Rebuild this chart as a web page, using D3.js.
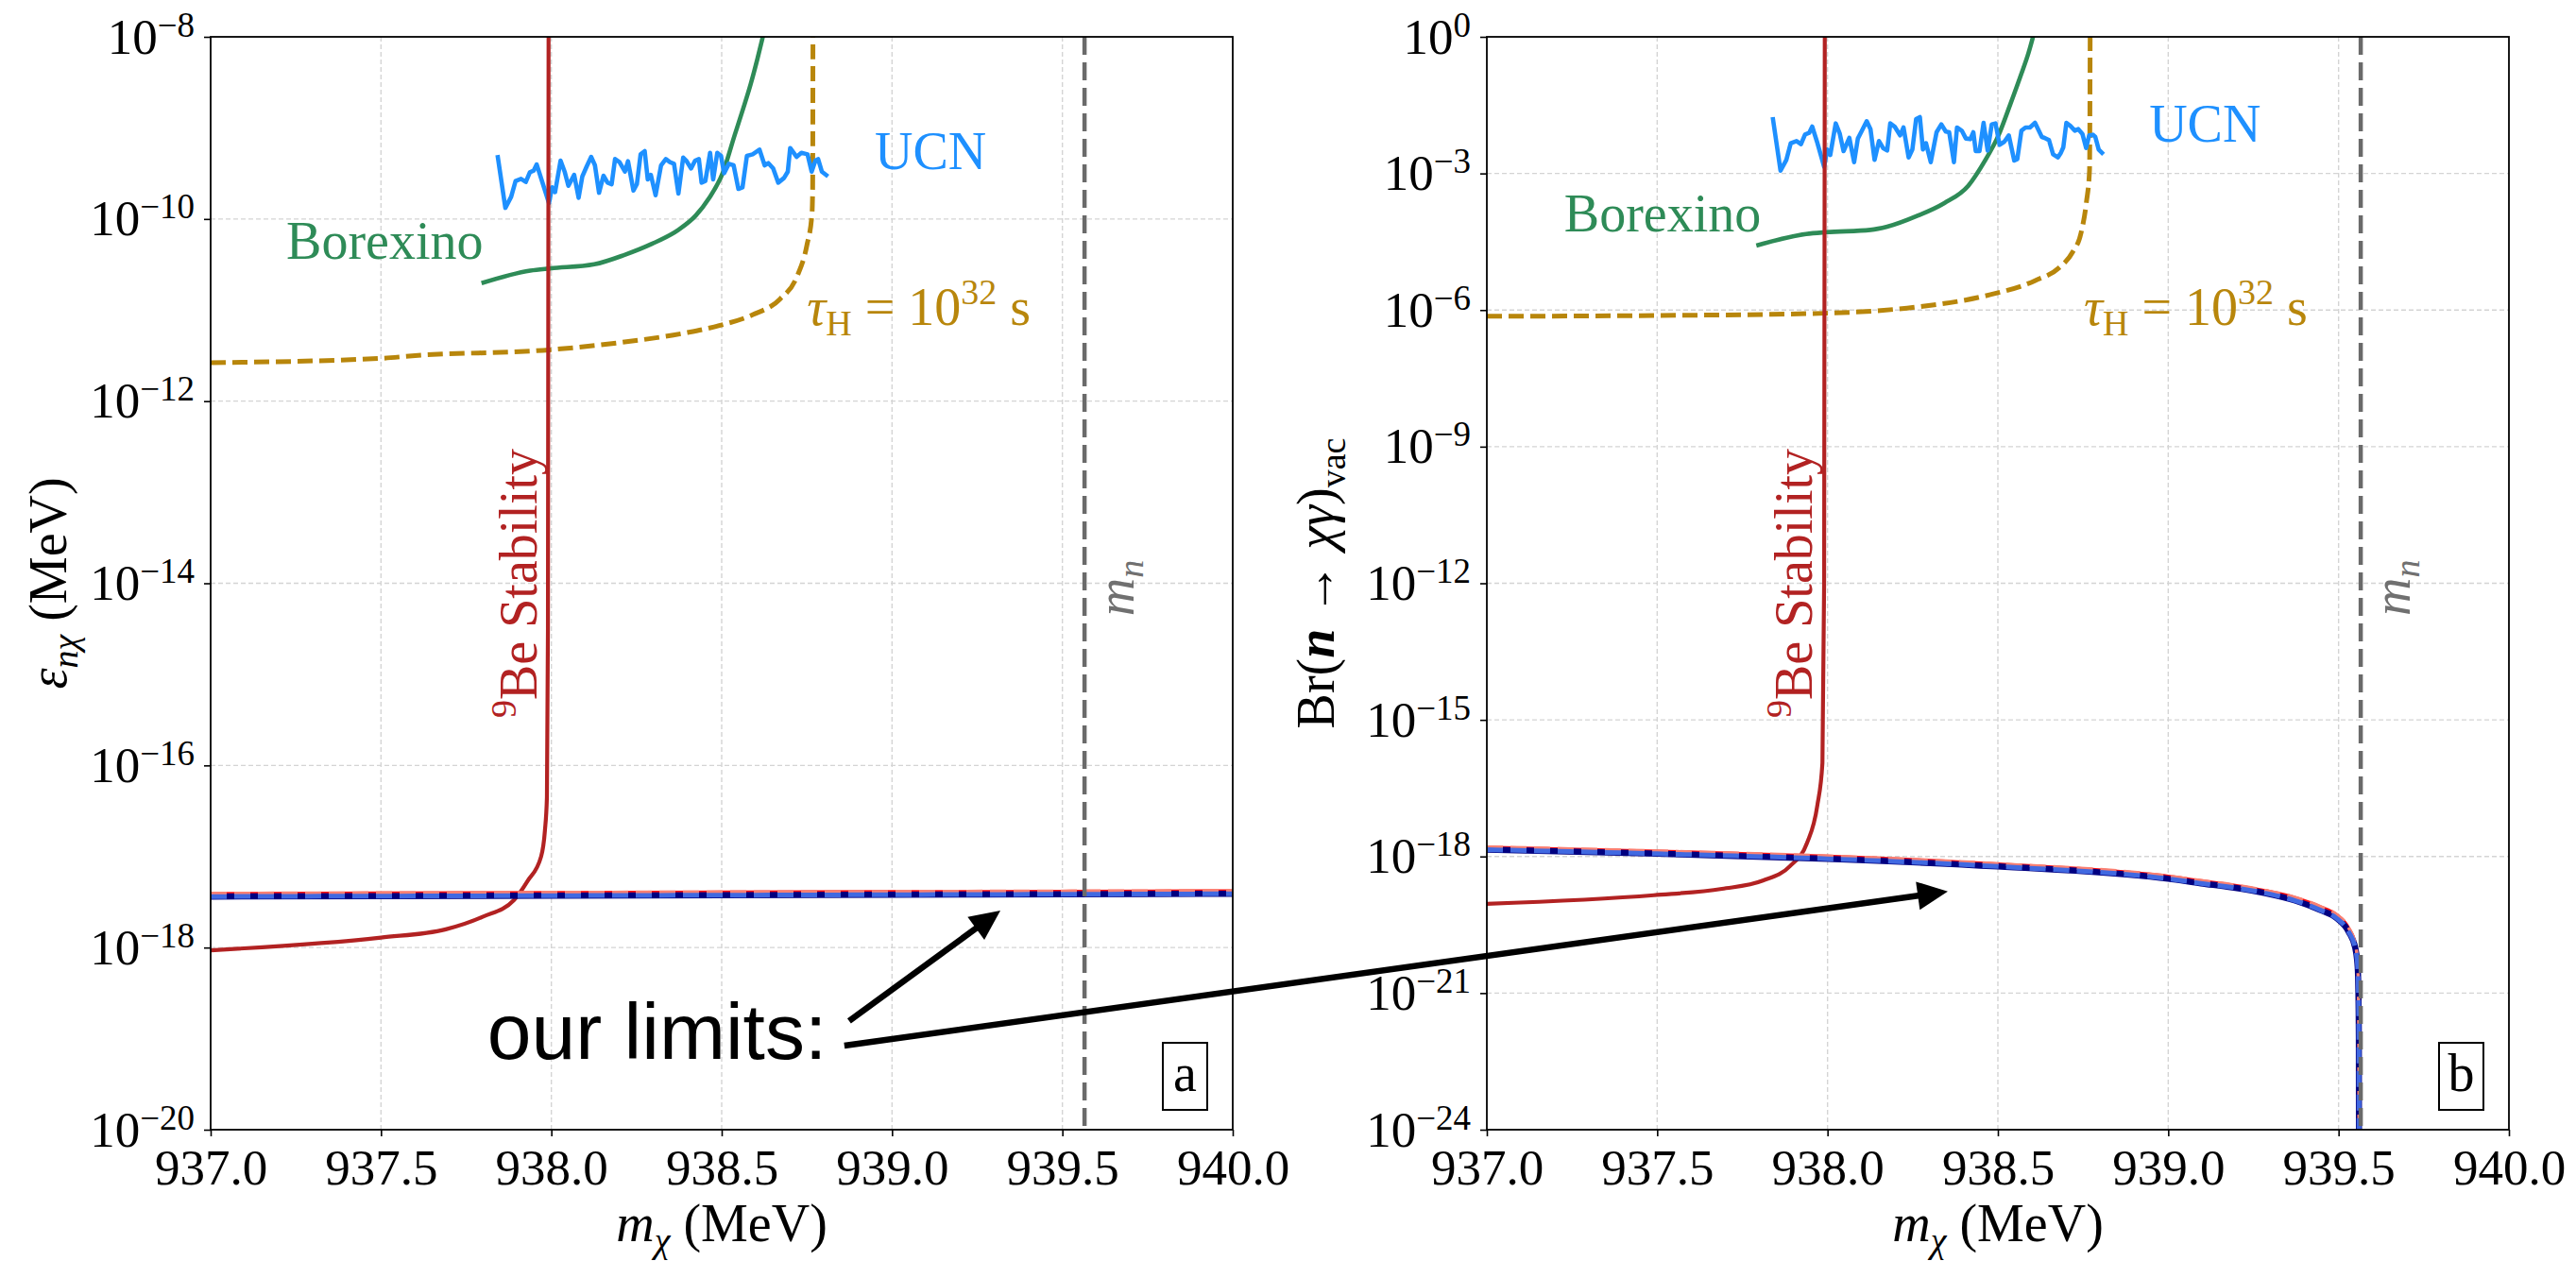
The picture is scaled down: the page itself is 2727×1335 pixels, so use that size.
<!DOCTYPE html>
<html>
<head>
<meta charset="utf-8">
<script src="https://cdn.jsdelivr.net/npm/d3@7"></script>
<style>
  body { margin: 0; background: #fff; }
  #chart { font-family: "Liberation Serif", "DejaVu Serif", serif; }
</style>
</head>
<body>
<svg id="chart" width="2727" height="1335"></svg>
<script>
'use strict'

/* values are log10 of epsilon (MeV) or of the branching ratio */
const massTicks = [937.0, 937.5, 938.0, 938.5, 939.0, 939.5, 940.0];
const epsTickExp = [-20, -18, -16, -14, -12, -10, -8];
const brTickExp = [-24, -21, -18, -15, -12, -9, -6, -3, 0];
const neutronMass = 939.565;

/* 9Be stability */
const beMassL = [937.0, 937.5, 937.69, 937.80, 937.89, 937.93, 937.97, 937.981, 937.987, 937.990, 937.992];
const beEpsL  = [-18.03, -17.89, -17.80, -17.66, -17.48, -17.27, -17.0, -16.72, -16.35, -14.5, -7.5];
const beMassR = [937.0, 937.49, 937.69, 937.81, 937.89, 937.94, 937.97, 937.985, 937.990, 937.992];
const beBrR   = [-19.04, -18.85, -18.71, -18.53, -18.21, -17.70, -16.88, -15.95, -12.0, 0.5];

/* Borexino */
const borMassL = [937.795, 937.938, 937.998, 938.126, 938.215, 938.295, 938.374, 938.424, 938.463, 938.503, 938.538, 938.562, 938.585, 938.605, 938.622];
const borEpsL  = [-10.705, -10.567, -10.542, -10.497, -10.394, -10.273, -10.117, -9.962, -9.772, -9.495, -9.08, -8.80, -8.52, -8.24, -7.98];
const borMassR = [937.791, 937.937, 937.997, 938.126, 938.175, 938.264, 938.343, 938.413, 938.462, 938.502, 938.537, 938.567, 938.59, 938.605];
const borBrR   = [-4.585, -4.33, -4.29, -4.24, -4.17, -3.93, -3.65, -3.27, -2.72, -2.16, -1.47, -0.85, -0.35, 0.05];

/* hydrogen lifetime tau_H = 1e32 s */
const tauMassL = [937.0, 937.5, 937.6, 937.993, 938.196, 938.394, 938.493, 938.592, 938.671, 938.72, 938.75, 938.765, 938.767, 938.768];
const tauEpsL  = [-11.578, -11.53, -11.50, -11.437, -11.36, -11.25, -11.17, -11.05, -10.88, -10.64, -10.29, -9.945, -9.668, -7.5];
const tauMassR = [937.0, 937.49, 937.99, 938.264, 938.462, 938.61, 938.68, 938.72, 938.744, 938.76, 938.769, 938.771];
const tauBrR   = [-6.137, -6.12, -6.07, -5.93, -5.69, -5.35, -5.07, -4.72, -4.31, -3.62, -2.93, 0.5];

/* UCN */
const ucnMassL = [937.842, 937.865, 937.882, 937.895, 937.911, 937.925, 937.937, 937.948, 937.957, 937.971,
  937.993, 938.002, 938.011, 938.027, 938.039, 938.050, 938.067, 938.080, 938.091, 938.104,
  938.117, 938.128, 938.140, 938.153, 938.165, 938.177, 938.187, 938.200, 938.216, 938.225,
  938.241, 938.251, 938.262, 938.274, 938.283, 938.292, 938.306, 938.322, 938.336, 938.348,
  938.360, 938.373, 938.387, 938.396, 938.410, 938.422, 938.433, 938.441, 938.452, 938.466,
  938.475, 938.487, 938.498, 938.507, 938.521, 938.535, 938.549, 938.561, 938.574, 938.591,
  938.611, 938.626, 938.637, 938.651, 938.666, 938.683, 938.694, 938.701, 938.720, 938.734,
  938.752, 938.764, 938.775, 938.783, 938.794, 938.812];
const ucnEpsL = [-9.297, -9.878, -9.757, -9.584, -9.560, -9.594, -9.487, -9.470, -9.401, -9.566,
  -9.826, -9.653, -9.705, -9.359, -9.480, -9.636, -9.515, -9.767, -9.532, -9.421,
  -9.318, -9.411, -9.712, -9.525, -9.601, -9.618, -9.342, -9.376, -9.480, -9.366,
  -9.688, -9.618, -9.290, -9.255, -9.566, -9.515, -9.739, -9.411, -9.342, -9.376,
  -9.394, -9.722, -9.325, -9.359, -9.445, -9.359, -9.342, -9.601, -9.584, -9.273,
  -9.566, -9.273, -9.307, -9.497, -9.394, -9.411, -9.670, -9.653, -9.307, -9.290,
  -9.238, -9.411, -9.387, -9.445, -9.601, -9.549, -9.480, -9.221, -9.318, -9.273,
  -9.290, -9.480, -9.359, -9.342, -9.480, -9.532];
const ucnMassR = [937.839, 937.862, 937.879, 937.892, 937.909, 937.922, 937.934, 937.946, 937.955, 937.969,
  937.990, 937.999, 938.008, 938.024, 938.036, 938.047, 938.064, 938.078, 938.089, 938.101,
  938.115, 938.126, 938.138, 938.151, 938.163, 938.175, 938.184, 938.197, 938.213, 938.223,
  938.238, 938.249, 938.260, 938.271, 938.280, 938.289, 938.303, 938.320, 938.334, 938.347,
  938.357, 938.371, 938.380, 938.394, 938.406, 938.419, 938.428, 938.435, 938.446, 938.458,
  938.470, 938.482, 938.493, 938.505, 938.519, 938.532, 938.548, 938.557, 938.569, 938.581,
  938.594, 938.609, 938.620, 938.629, 938.637, 938.650, 938.662, 938.676, 938.685, 938.692,
  938.701, 938.713, 938.726, 938.736, 938.748, 938.759, 938.768, 938.779, 938.786, 938.796, 938.810];
const ucnBrR = [-1.763, -2.939, -2.703, -2.337, -2.289, -2.358, -2.143, -2.109, -1.971, -2.302,
  -2.856, -2.475, -2.593, -1.901, -2.130, -2.510, -2.219, -2.752, -2.233, -2.060,
  -1.853, -2.026, -2.703, -2.289, -2.441, -2.496, -1.901, -1.971, -2.164, -1.991,
  -2.648, -2.475, -1.805, -1.763, -2.475, -2.337, -2.752, -2.095, -1.922, -2.081,
  -2.095, -2.752, -1.991, -2.060, -2.233, -2.247, -2.095, -2.510, -2.510, -1.888,
  -2.496, -1.922, -1.901, -2.372, -2.302, -2.164, -2.717, -2.683, -2.060, -1.991,
  -1.991, -1.888, -2.060, -2.199, -2.219, -2.268, -2.579, -2.648, -2.544, -2.427,
  -1.888, -1.957, -2.060, -2.026, -2.130, -2.441, -2.164, -2.150, -2.199, -2.475, -2.579];

/* our limits (blue pair and red pair) */
const limMassL = [937.0, 937.5, 938.0, 938.5, 939.0, 939.5, 940.0];
const limEpsBlueL = [-17.440, -17.435, -17.430, -17.425, -17.420, -17.415, -17.410];
const limEpsRedL  = [-17.405, -17.400, -17.395, -17.390, -17.385, -17.380, -17.375];
const limMassR = [937.0, 937.5, 938.0, 938.5, 939.0, 939.096, 939.188, 939.281, 939.373, 939.447,
  939.493, 939.530, 939.549, 939.556, 939.558, 939.5595, 939.560];
const limBrBlueR = [-17.85, -17.94, -18.05, -18.22, -18.49, -18.59, -18.68, -18.80, -18.97, -19.18,
  -19.35, -19.66, -20.01, -20.42, -20.91, -22.0, -25.0];
const limBrRedR  = [-17.79, -17.88, -17.99, -18.16, -18.43, -18.53, -18.62, -18.74, -18.90, -19.10,
  -19.27, -19.57, -19.92, -20.35, -20.85, -22.0, -25.0];


const svg = d3.select('#chart');
const plotW = 1082;
const plotTop = 39, plotBottom = 1196;

const COLORS = {
  be: '#b22222', bor: '#2e8b57', ucn: '#1e90ff', tau: '#b8860b',
  mn: '#6a6a6a', navy: '#000080', royal: '#4169e1', red: '#ff1010', salmon: '#fa8072'
};

function expLabel (textSel, e) {
    textSel.text(null);
    textSel.append('tspan').text('10');
    textSel.append('tspan').attr('font-size', 37).attr('dy', -18)
        .text(e === 0 ? '0' : '\u2212' + Math.abs(e));
}

function drawPanel (cfg) {
    const x = d3.scaleLinear().domain([937, 940]).range([cfg.left, cfg.left + plotW]);
    const y = d3.scaleLog().domain([Math.pow(10, cfg.yExp[0]), Math.pow(10, cfg.yExp[cfg.yExp.length - 1])])
                .range([plotBottom, plotTop]);
    const ly = v => y(Math.pow(10, v));

    const g = svg.append('g').attr('id', cfg.id);

    g.append('clipPath').attr('id', cfg.id + '-clip')
     .append('rect')
     .attr('x', cfg.left).attr('y', plotTop)
     .attr('width', plotW).attr('height', plotBottom - plotTop);

    /* grid */
    g.append('g').selectAll('line')
     .data(massTicks.slice(1, -1))
     .enter().append('line')
     .attr('x1', d => x(d)).attr('x2', d => x(d))
     .attr('y1', plotTop).attr('y2', plotBottom)
     .attr('stroke', '#d4d4d4').attr('stroke-width', 1.4).attr('stroke-dasharray', '5,3');
    g.append('g').selectAll('line')
     .data(cfg.yExp.slice(1, -1))
     .enter().append('line')
     .attr('x1', cfg.left).attr('x2', cfg.left + plotW)
     .attr('y1', d => ly(d)).attr('y2', d => ly(d))
     .attr('stroke', '#d4d4d4').attr('stroke-width', 1.4).attr('stroke-dasharray', '5,3');

    const plot = g.append('g').attr('clip-path', 'url(#' + cfg.id + '-clip)');
    const smooth = d3.line().curve(d3.curveMonotoneX).x(d => x(d[0])).y(d => ly(d[1]));
    const jagged = d3.line().x(d => x(d[0])).y(d => ly(d[1]));

    function curve (xs, ys, color, width, dash, gen) {
        plot.append('path')
            .datum(d3.zip(xs, ys))
            .attr('d', gen || smooth)
            .attr('fill', 'none')
            .attr('stroke', color)
            .attr('stroke-width', width)
            .attr('stroke-linejoin', 'round')
            .attr('stroke-dasharray', dash || null);
    }

    curve(cfg.tau[0], cfg.tau[1], COLORS.tau, 5, '16,7');
    curve(cfg.bor[0], cfg.bor[1], COLORS.bor, 4.6);
    curve(cfg.ucn[0], cfg.ucn[1], COLORS.ucn, 4.6, null, jagged);
    curve(cfg.be[0], cfg.be[1], COLORS.be, 4.2);

    curve(cfg.limRed[0], cfg.limRed[1], COLORS.red, 3);
    curve(cfg.limBlue[0], cfg.limBlue[1], COLORS.navy, 6.5);
    curve(cfg.limRed[0], cfg.limRed[1], COLORS.salmon, 3.5, '17,8');
    curve(cfg.limBlue[0], cfg.limBlue[1], COLORS.royal, 5, '17,8');

    /* neutron mass */
    plot.append('line')
        .attr('x1', x(neutronMass)).attr('x2', x(neutronMass))
        .attr('y1', plotTop).attr('y2', plotBottom)
        .attr('stroke', COLORS.mn).attr('stroke-width', 4.5).attr('stroke-dasharray', '19,8');

    /* axes */
    const xAxis = d3.axisBottom(x).tickValues(massTicks).tickFormat(d3.format('.1f')).tickSizeOuter(0).tickSize(7);
    const gx = g.append('g').attr('transform', 'translate(0,' + plotBottom + ')').call(xAxis);
    gx.select('.domain').remove();
    gx.selectAll('line').attr('stroke', '#000').attr('stroke-width', 1.6);
    gx.selectAll('text').attr('y', 58).attr('dy', 0)
      .attr('font-size', 53).attr('font-family', null).attr('fill', '#000');

    const yAxis = d3.axisLeft(y).tickValues(cfg.yExp.map(e => Math.pow(10, e))).tickSizeOuter(0).tickSize(7);
    const gy = g.append('g').attr('transform', 'translate(' + cfg.left + ',0)').call(yAxis);
    gy.select('.domain').remove();
    gy.selectAll('line').attr('stroke', '#000').attr('stroke-width', 1.6);
    gy.selectAll('text')
      .attr('x', -17).attr('dy', 17)
      .attr('font-size', 53).attr('font-family', null).attr('fill', '#000')
      .each(function (d) { expLabel(d3.select(this), Math.round(Math.log10(d))); });
    gx.attr('font-family', null);
    gy.attr('font-family', null);

    g.append('rect')
     .attr('x', cfg.left).attr('y', plotTop)
     .attr('width', plotW).attr('height', plotBottom - plotTop)
     .attr('fill', 'none').attr('stroke', '#000').attr('stroke-width', 1.8);

    /* axis titles */
    const xt = g.append('text')
      .attr('x', cfg.left + plotW / 2).attr('y', 1314)
      .attr('text-anchor', 'middle').attr('font-size', 56);
    xt.append('tspan').attr('font-style', 'italic').text('m');
    xt.append('tspan').attr('font-style', 'italic').attr('font-size', 38).attr('dy', 12).text('\u03c7');
    xt.append('tspan').attr('dy', -12).text(' (MeV)');

    const yt = g.append('text')
      .attr('transform', 'translate(' + cfg.yTitleX + ',' + ((plotTop + plotBottom) / 2) + ') rotate(-90)')
      .attr('text-anchor', 'middle').attr('font-size', 56);
    cfg.yTitle(yt);

    /* curve labels */
    const L = cfg.labels;
    g.append('text').attr('x', x(L.ucn[0])).attr('y', ly(L.ucn[1]))
     .attr('font-size', 56).attr('fill', COLORS.ucn).text('UCN');
    g.append('text').attr('x', x(L.bor[0])).attr('y', ly(L.bor[1]))
     .attr('font-size', 56).attr('fill', COLORS.bor).text('Borexino');

    const tt = g.append('text').attr('x', x(L.tau[0])).attr('y', ly(L.tau[1]))
     .attr('font-size', 56).attr('fill', COLORS.tau);
    tt.append('tspan').attr('font-style', 'italic').text('\u03c4');
    tt.append('tspan').attr('font-size', 38).attr('dy', 11).text('H');
    tt.append('tspan').attr('dy', -11).text(' = 10');
    tt.append('tspan').attr('font-size', 38).attr('dy', -22).text('32');
    tt.append('tspan').attr('dy', 22).text(' s');

    const bt = g.append('text')
     .attr('transform', 'translate(' + x(L.be[0]) + ',' + ly(L.be[1]) + ') rotate(-90)')
     .attr('font-size', 56).attr('fill', COLORS.be);
    bt.append('tspan').attr('font-size', 38).attr('dy', -22).text('9');
    bt.append('tspan').attr('dy', 22).text('Be Stability');

    const mt = g.append('text')
     .attr('transform', 'translate(' + x(L.mn[0]) + ',' + ly(L.mn[1]) + ') rotate(-90)')
     .attr('font-size', 56).attr('fill', '#707070').attr('font-style', 'italic');
    mt.append('tspan').text('m');
    mt.append('tspan').attr('font-size', 38).attr('dy', 10).text('n');

    /* panel tag */
    const bx = cfg.left + plotW - 74, by = plotBottom - 92;
    g.append('rect').attr('x', bx).attr('y', by).attr('width', 47).attr('height', 71)
     .attr('fill', '#fff').attr('stroke', '#000').attr('stroke-width', 2);
    g.append('text').attr('x', bx + 23.5).attr('y', by + 51)
     .attr('text-anchor', 'middle').attr('font-size', 56).text(cfg.tag);

    return { x: x, ly: ly };
}

const left = drawPanel({
    id: 'panel-a', left: 223, yExp: epsTickExp, tag: 'a', yTitleX: 70,
    be: [beMassL, beEpsL], bor: [borMassL, borEpsL], tau: [tauMassL, tauEpsL], ucn: [ucnMassL, ucnEpsL],
    limBlue: [limMassL, limEpsBlueL], limRed: [limMassL, limEpsRedL],
    labels: { ucn: [938.949, -9.452], bor: [937.222, -10.438], tau: [938.750, -11.164],
              be: [937.957, -15.478], mn: [939.709, -14.36] },
    yTitle: t => {
        t.append('tspan').attr('font-style', 'italic').text('\u03b5');
        t.append('tspan').attr('font-style', 'italic').attr('font-size', 38).attr('dy', 12).text('n\u03c7');
        t.append('tspan').attr('dy', -12).text(' (MeV)');
    }
});

const right = drawPanel({
    id: 'panel-b', left: 1574, yExp: brTickExp, tag: 'b', yTitleX: 1412,
    be: [beMassR, beBrR], bor: [borMassR, borBrR], tau: [tauMassR, tauBrR], ucn: [ucnMassR, ucnBrR],
    limBlue: [limMassR, limBrBlueR], limRed: [limMassR, limBrRedR],
    labels: { ucn: [938.944, -2.294], bor: [937.227, -4.283], tau: [938.752, -6.321],
              be: [937.954, -14.956], mn: [939.709, -12.715] },
    yTitle: t => {
        t.append('tspan').text('Br(');
        t.append('tspan').attr('font-style', 'italic').attr('font-weight', 'bold').text('n');
        t.append('tspan').text(' \u2192 ');
        t.append('tspan').attr('font-style', 'italic').text('\u03c7\u03b3');
        t.append('tspan').text(')');
        t.append('tspan').attr('font-size', 38).attr('dy', 12).text('vac');
    }
});

/* annotation: "our limits:" with two arrows */
const ann = svg.append('g').attr('id', 'annotation');
const textPos = [left.x(937.812), left.ly(-19.222)];
ann.append('text')
   .attr('x', textPos[0]).attr('y', textPos[1])
   .style('font-family', '"Liberation Sans", Arial, Helvetica, sans-serif')
   .attr('font-size', 84).attr('fill', '#000')
   .text('our limits:');

const arrows = [
    { from: [left.x(938.874), left.ly(-18.807)], to: [left.x(939.318), left.ly(-17.593)] },
    { from: [left.x(938.860), left.ly(-19.077)], to: [right.x(938.353), right.ly(-18.77)] }
];

arrows.forEach(a => {
    const dx = a.to[0] - a.from[0], dy = a.to[1] - a.from[1];
    const len = Math.sqrt(dx * dx + dy * dy);
    const ux = dx / len, uy = dy / len;
    const headL = 32, headW = 15;
    const base = [a.to[0] - ux * headL, a.to[1] - uy * headL];
    ann.append('line')
       .attr('x1', a.from[0]).attr('y1', a.from[1])
       .attr('x2', base[0] + ux * 2).attr('y2', base[1] + uy * 2)
       .attr('stroke', '#000').attr('stroke-width', 6.5);
    ann.append('path')
       .attr('d', 'M' + a.to[0] + ',' + a.to[1] +
                  'L' + (base[0] - uy * headW) + ',' + (base[1] + ux * headW) +
                  'L' + (base[0] + uy * headW) + ',' + (base[1] - ux * headW) + 'Z')
       .attr('fill', '#000');
});
</script>
</body>
</html>
